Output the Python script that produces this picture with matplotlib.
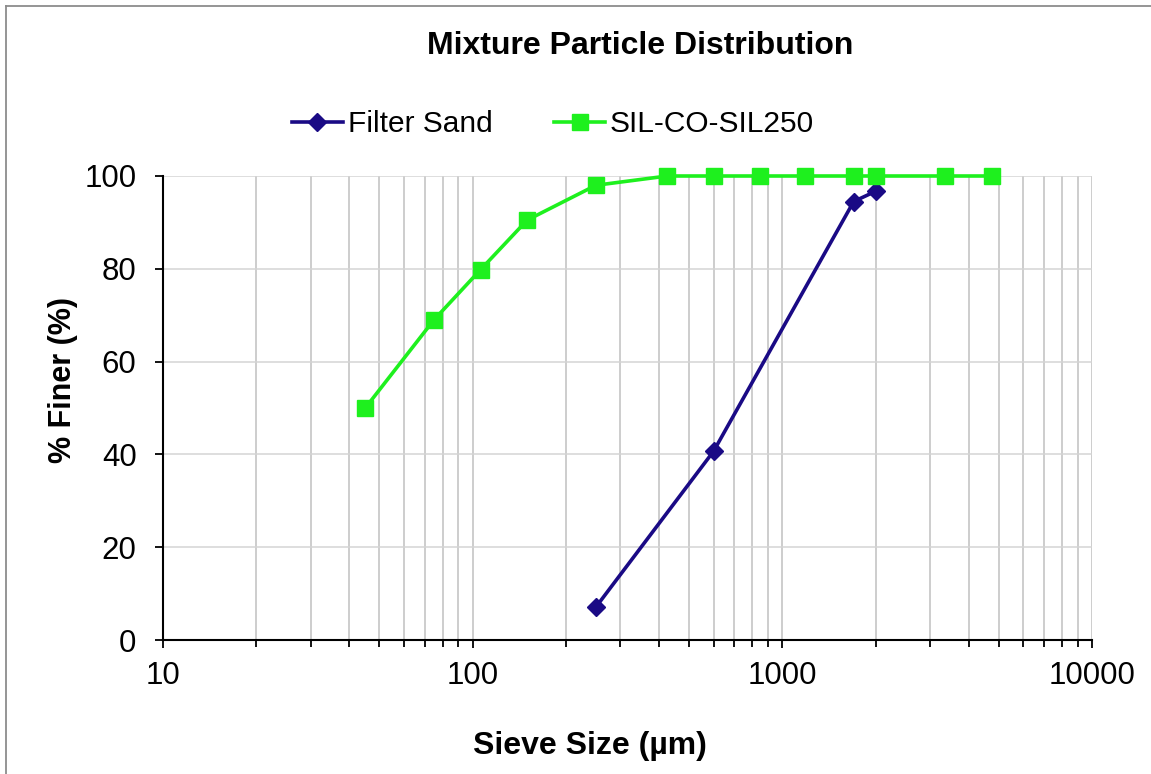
import matplotlib
matplotlib.use('Agg')
import matplotlib.pyplot as plt
from matplotlib.lines import Line2D
from matplotlib.ticker import LogLocator, NullFormatter, FixedLocator

plt.rcParams['font.family'] = ['Liberation Sans', 'DejaVu Sans']

# Dados (tamanho da peneira em µm, % passante)
sand_size = [250, 600, 1700, 2000]
sand_finer = [7.1, 40.7, 94.5, 96.7]

sil_size = [45, 75, 106, 150, 250, 425, 600, 850, 1180, 1700, 2000, 3350, 4750]
sil_finer = [50.0, 69.0, 79.8, 90.5, 98.0, 100, 100, 100, 100, 100, 100, 100, 100]

x_ticks = [10, 100, 1000, 10000]
y_ticks = [0, 20, 40, 60, 80, 100]

W, H = 1151, 774
fig = plt.figure(figsize=(W / 100, H / 100), dpi=100)
ax = fig.add_axes([163 / W, 1 - 640 / H, (1092 - 163) / W, (640 - 176) / H])

cor_azul = '#1A0A85'
cor_verde = '#1EF01E'

ax.plot(sand_size, sand_finer, color=cor_azul, lw=2.6, marker='D', ms=9,
        label='Filter Sand', zorder=3, clip_on=False)
ax.plot(sil_size, sil_finer, color=cor_verde, lw=2.6, marker='s', ms=11,
        label='SIL-CO-SIL250', zorder=3, clip_on=False)

ax.set_xscale('log')
ax.set_xlim(10, 10000)
ax.set_ylim(0, 100)
ax.xaxis.set_major_locator(FixedLocator(x_ticks))
ax.xaxis.set_minor_locator(LogLocator(base=10, subs=range(2, 10)))
ax.xaxis.set_minor_formatter(NullFormatter())
ax.set_xticklabels([str(v) for v in x_ticks])
ax.set_yticks(y_ticks)

# Grade
ax.grid(True, which='both', axis='x', color='#c0c0c0', lw=1.1, zorder=0)
ax.grid(True, which='major', axis='y', color='#d4d4d4', lw=1.1, zorder=0)
ax.set_axisbelow(True)

for lado in ['top', 'right']:
    ax.spines[lado].set_visible(False)
for lado in ['left', 'bottom']:
    ax.spines[lado].set_linewidth(1.5)

ax.tick_params(axis='both', which='major', direction='out', length=6, width=1.3,
               labelsize=22.5)
ax.tick_params(axis='x', which='minor', direction='out', length=5, width=1.3)
ax.tick_params(axis='y', pad=13)
ax.tick_params(axis='x', pad=9)

# Textos
fig.text(640 / W, 1 - 46 / H, 'Mixture Particle Distribution', ha='center', va='center',
         fontsize=23, fontweight='bold')
fig.text(590 / W, 1 - 746 / H, 'Sieve Size (µm)', ha='center', va='center',
         fontsize=23, fontweight='bold')
fig.text(63 / W, 1 - 380 / H, '% Finer (%)', ha='center', va='center', rotation=90,
         fontsize=22, fontweight='bold')

fig.legend(loc='center', bbox_to_anchor=(553 / W, 1 - 124 / H), ncol=2, frameon=False,
           fontsize=21.5, handlelength=1.7, handletextpad=0.17, columnspacing=2.07)

# Moldura do gráfico
fig.add_artist(Line2D([5.5 / W, 5.5 / W], [0, 1 - 5.5 / H], color='#8c8c8c', lw=1.3))
fig.add_artist(Line2D([5.5 / W, 1], [1 - 5.5 / H, 1 - 5.5 / H], color='#8c8c8c', lw=1.3))

fig.savefig('out.png', dpi=100)
